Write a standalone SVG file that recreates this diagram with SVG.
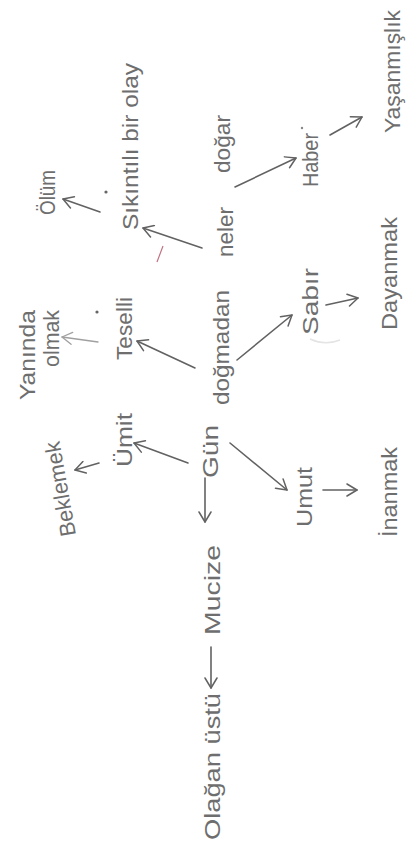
<svg xmlns="http://www.w3.org/2000/svg" width="409" height="850" viewBox="0 0 409 850">
<defs>
<style>
.t{font-family:"Liberation Sans",Arial,sans-serif;font-size:22px;fill:#6e6e6e;}
.c{stroke:#626262;stroke-width:1.6;fill:none;stroke-linecap:round;marker-end:url(#ah);}
.l{stroke:#a0a0a0;stroke-width:1.3;marker-end:url(#ahl);}
</style>
<marker id="ah" viewBox="0 0 14 14" refX="12" refY="7" markerWidth="14" markerHeight="14" markerUnits="userSpaceOnUse" orient="auto">
<path d="M2,1 L12,7 L2,13" fill="none" stroke="#626262" stroke-width="1.5" stroke-linecap="round" stroke-linejoin="round"/>
</marker>
<marker id="ahl" viewBox="0 0 14 14" refX="12" refY="7" markerWidth="14" markerHeight="14" markerUnits="userSpaceOnUse" orient="auto">
<path d="M2,1 L12,7 L2,13" fill="none" stroke="#a0a0a0" stroke-width="1.3" stroke-linecap="round" stroke-linejoin="round"/>
</marker>
</defs>
<rect width="409" height="850" fill="#ffffff"/>
<g id="connectors">
<path class="c" d="M202,248 L143,228"/>
<path class="c" d="M100,212 L63,199"/>
<path class="c" d="M235,187 L296,158"/>
<path class="c" d="M330,135 L362,117"/>
<path class="c" d="M237,360 L292,315"/>
<path class="c" d="M326,305 L358,298"/>
<path class="c" d="M195,368 L137,341"/>
<path class="c l" d="M98,342 L62,337"/>
<path class="c" d="M188,463 L134,443"/>
<path class="c" d="M99,463 L75,470"/>
<path class="c" d="M205,478 L205,522"/>
<path class="c" d="M211,647 L211,688"/>
<path class="c" d="M230,443 L287,490"/>
<path class="c" d="M323,490 L357,490"/>
</g>
<g id="marks">
<circle cx="106" cy="192" r="1.6" fill="#666"/>
<circle cx="97" cy="312" r="1.6" fill="#666"/>
<circle cx="302" cy="128" r="1.2" fill="#888"/>
<path d="M157,262 L163,246" stroke="#c07080" stroke-width="1.2" fill="none"/>
<path d="M310,339 Q325,346 340,340" stroke="#e4e4e4" stroke-width="1.5" fill="none"/>
</g>
<g id="n-olum"><text class="t" transform="translate(55,215) rotate(-90)" textLength="45" lengthAdjust="spacingAndGlyphs">Ölüm</text></g>
<g id="n-sikintili"><text class="t" transform="translate(138,230) rotate(-90)" textLength="167" lengthAdjust="spacingAndGlyphs">Sıkıntılı bir olay</text></g>
<g id="n-neler"><text class="t" transform="translate(233,257) rotate(-90)" textLength="50" lengthAdjust="spacingAndGlyphs">neler</text></g>
<g id="n-dogar"><text class="t" transform="translate(230,173) rotate(-90)" textLength="58" lengthAdjust="spacingAndGlyphs">doğar</text></g>
<g id="n-haber"><text class="t" transform="translate(318,187) rotate(-90)" textLength="54" lengthAdjust="spacingAndGlyphs">Haber</text></g>
<g id="n-yasanmislik"><text class="t" transform="translate(400,133) rotate(-90)" textLength="123" lengthAdjust="spacingAndGlyphs">Yaşanmışlık</text></g>
<g id="n-yaninda">
<text class="t" transform="translate(35,400) rotate(-90)" textLength="90" lengthAdjust="spacingAndGlyphs">Yanında</text>
<text class="t" transform="translate(59,367) rotate(-90)" textLength="57" lengthAdjust="spacingAndGlyphs">olmak</text>
</g>
<g id="n-teselli"><text class="t" transform="translate(132,360) rotate(-90)" textLength="63" lengthAdjust="spacingAndGlyphs">Teselli</text></g>
<g id="n-dogmadan"><text class="t" transform="translate(229,405) rotate(-90)" textLength="115" lengthAdjust="spacingAndGlyphs">doğmadan</text></g>
<g id="n-sabir"><text class="t" transform="translate(318,335) rotate(-90)" textLength="67" lengthAdjust="spacingAndGlyphs">Sabır</text></g>
<g id="n-dayanmak"><text class="t" transform="translate(397,330) rotate(-90)" textLength="113" lengthAdjust="spacingAndGlyphs">Dayanmak</text></g>
<g id="n-beklemek"><text class="t" transform="translate(76,535) rotate(-100)" textLength="96" lengthAdjust="spacingAndGlyphs">Beklemek</text></g>
<g id="n-umit"><text class="t" transform="translate(132,467) rotate(-90)" textLength="54" lengthAdjust="spacingAndGlyphs">Ümit</text></g>
<g id="n-gun"><text class="t" font-size="28" transform="translate(218,478) rotate(-90)" textLength="53" lengthAdjust="spacingAndGlyphs">Gün</text></g>
<g id="n-umut"><text class="t" transform="translate(312,527) rotate(-90)" textLength="60" lengthAdjust="spacingAndGlyphs">Umut</text></g>
<g id="n-inanmak"><text class="t" transform="translate(397,537) rotate(-90)" textLength="90" lengthAdjust="spacingAndGlyphs">İnanmak</text></g>
<g id="n-mucize"><text class="t" font-size="24" transform="translate(220,635) rotate(-90)" textLength="90" lengthAdjust="spacingAndGlyphs">Mucize</text></g>
<g id="n-olagan"><text class="t" font-size="24" transform="translate(220,840) rotate(-90)" textLength="147" lengthAdjust="spacingAndGlyphs">Olağan üstü</text></g>
</svg>
